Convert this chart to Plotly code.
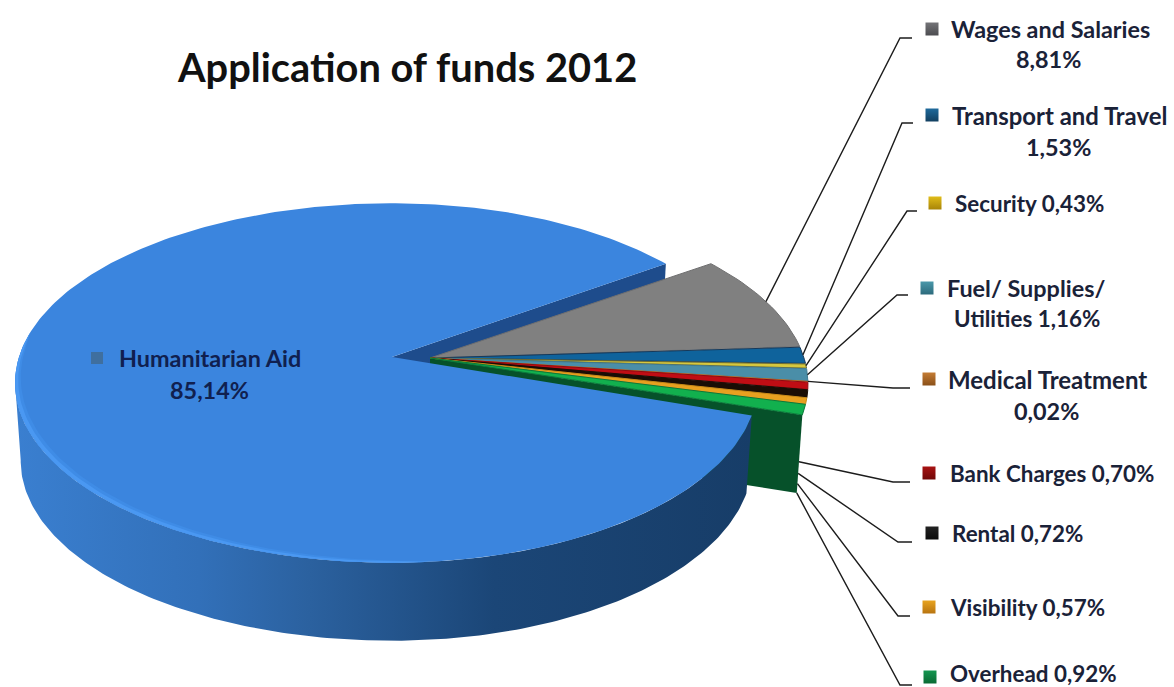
import numpy as np
import plotly.graph_objects as go

# ---- data ----
TITLE = "Application of funds 2012"
small_names = ["Wages and Salaries", "Transport and Travel", "Security", "Fuel/ Supplies/ Utilities",
               "Medical Treatment", "Bank Charges", "Rental", "Visibility", "Overhead"]
small_values = [8.81, 1.53, 0.43, 1.16, 0.02, 0.70, 0.72, 0.57, 0.92]
main_name = "Humanitarian Aid"
main_value = 85.14

# ---- styles ----
top_colors = ["#808080", "#0f639c", "#d6c83f", "#4a8ea8", "#b8702c", "#c00d14", "#1a0d05", "#e8a020", "#12b04e"]
edge_colors = ["#6f6f70", "#16395a", "#6a6a30", "#3f7a90", "#b8702c", "#900a10", "#1a0d05", "#c88a18", "#0a7a3a"]
key_colors = ["#747478", "#1f6a9c", "#e0bc18", "#4a98aa", "#c47c34", "#a81212", "#222222", "#e8a420", "#149650"]
key_dark = ["#4c4c50", "#123f60", "#a88408", "#2c6a7c", "#8a5018", "#700808", "#0c0c0c", "#b87410", "#0a6a34"]
TOP_BLUE = "#3b85de"
TEXT = "#1a2238"
LABEL_SIZE = 23.4
MIXED_SIZE = 22.4

# ---- projection (page pixels, tilted disc in perspective) ----
Q, RY, DEPTH, TAPER = 0.1445, 176.0, 78.0, 0.985
TIP = (392.0, 357.0)
APEX = (430.0, 358.0)
START_DEG = 35.0
SMALL_START_DEG = 35.5


def pt(c, rx_right, rx_left, deg, r=1.0, d=0.0):
    th = np.radians(np.asarray(deg, dtype=float))
    u, v = r * np.cos(th), -r * np.sin(th)
    w = 1 - Q * v
    rx = np.where(u > 0, rx_right, rx_left)
    k = 1 - (1 - TAPER) * d
    return c[0] + k * rx * u / w, c[1] + RY * v / w + DEPTH * d


def main_pt(deg, r=1.0, d=0.0):
    return pt(TIP, 362.0, 373.0, deg, r, d)


def small_pt(deg, r=1.0, d=0.0):
    return pt(APEX, 374.0, 374.0, deg, r, d)


fig = go.Figure()


def poly(x, y, color=None, line=None, grad=None):
    kw = dict(x=list(map(float, x)), y=list(map(float, y)), mode="lines", fill="toself", hoverinfo="skip",
              showlegend=False, line=dict(width=1 if line else 0, color=line or "rgba(0,0,0,0)"))
    if grad:
        kw["fillgradient"] = grad
    else:
        kw["fillcolor"] = color
    fig.add_trace(go.Scatter(**kw))


main_span = main_value * 3.6
main_end = START_DEG + main_span  # counter-clockwise round the back and the left

# radial cut face of the main slice, seen through the gap
sx, sy = main_pt(START_DEG)
bx, by = main_pt(START_DEG, d=1)
poly([TIP[0], sx, bx, TIP[0]], [TIP[1], sy, by, TIP[1] + DEPTH], "#1e4c8c")

# small slices: cut face
small_span = sum(small_values) * 3.6
small_end = SMALL_START_DEG - small_span
ex0, ey0 = small_pt(small_end)
ex1, ey1 = small_pt(small_end, d=1)
poly([APEX[0], ex0, ex1, APEX[0]], [APEX[1], ey0, ey1, APEX[1] + DEPTH], "#06512a")

# small slices: top faces
edges = SMALL_START_DEG - np.cumsum([0] + small_values) * 3.6
for i, name in enumerate(small_names):
    th = np.linspace(edges[i], edges[i + 1], 24)
    x, y = small_pt(th)
    poly([APEX[0], *x, APEX[0]], [APEX[1], *y, APEX[1]], top_colors[i], line=edge_colors[i])

# main slice: outer wall with gradient
th = np.linspace(188, main_end, 200)
x, y = main_pt(th)
xb, yb = main_pt(th, d=1)
poly([*x, *xb[::-1]], [*y, *yb[::-1]],
     grad=dict(type="horizontal",
               colorscale=[[0, "#3a7fd0"], [0.25, "#3270b9"], [0.4, "#2b619f"],
                           [0.65, "#1b4677"], [1, "#173d68"]]))

# main slice: top face
th = np.linspace(START_DEG, main_end, 300)
x, y = main_pt(th)
poly([TIP[0], *x, TIP[0]], [TIP[1], *y, TIP[1]], TOP_BLUE)

# bevel highlight along the lower-left rim
for width, col in [(0.022, "#3f8ce6"), (0.012, "#4a98f2")]:
    th = np.linspace(172, 275, 90)
    w = width * np.sin(np.pi * (th - 172) / 103) ** 0.5
    xo, yo = main_pt(th)
    xi, yi = main_pt(th, r=1 - w)
    poly([*xo, *xi[::-1]], [*yo, *yi[::-1]], col)

# ---- leader lines: from slice to the elbow and the end beside each label ----
elbows = [(900, 38), (902, 123), (907, 211), (897, 295), (893, 388), (893, 482), (898, 542), (898, 616), (900, 685)]
ends = [912, 913, 917, 908, 910, 910, 912, 910, 912]
leader_depth = [0, 0, 0, 0, 0, 0.6, 0.75, 0.88, 1.0]
for i in range(len(small_names)):
    if leader_depth[i] == 0:
        sx, sy = small_pt((edges[i] + edges[i + 1]) / 2)
    else:
        sx, sy = small_pt(small_end, d=leader_depth[i])
    ex, ey = elbows[i]
    fig.add_trace(go.Scatter(x=[float(sx), ex, ends[i]], y=[float(sy), ey, ey], mode="lines",
                             line=dict(color="#1c1c1c", width=1.4), hoverinfo="skip", showlegend=False))


def pct(v):
    return f"{v:.2f}".replace(".", ",") + "%"


# ---- labels: (lines as text, x, y, anchor, size) ----
sv = small_values
rows = [
    [("Wages and Salaries", 1050, 29, "center", LABEL_SIZE), (pct(sv[0]), 1048, 59, "center", LABEL_SIZE)],
    [("Transport and Travel", 1059, 115, "center", 23.9), (pct(sv[1]), 1058, 147, "center", LABEL_SIZE)],
    [(f"Security {pct(sv[2])}", 953, 203, "left", MIXED_SIZE)],
    [("Fuel/ Supplies/", 945, 288, "left", LABEL_SIZE), (f"Utilities {pct(sv[3])}", 952, 318, "left", MIXED_SIZE)],
    [("Medical Treatment", 1047, 379, "center", 24.0), (pct(sv[4]), 1046, 411, "center", LABEL_SIZE)],
    [(f"Bank Charges {pct(sv[5])}", 948, 473, "left", MIXED_SIZE)],
    [(f"Rental {pct(sv[6])}", 950, 533, "left", MIXED_SIZE)],
    [(f"Visibility {pct(sv[7])}", 948, 607, "left", MIXED_SIZE)],
    [(f"Overhead {pct(sv[8])}", 948, 673, "left", MIXED_SIZE)],
]
key_x = [932, 932, 935, 927, 929, 929, 932, 929, 930]
key_y = [29, 115, 203, 288, 379, 473, 533, 607, 677]

annotations = []
for row in rows:
    for text, x, y, anc, size in row:
        annotations.append(dict(x=x, y=y, text=f"<b>{text}</b>", xanchor=anc, yanchor="middle", showarrow=False,
                                font=dict(family="Lato", size=size, color=TEXT)))
annotations.append(dict(x=117, y=358, text=f"<b>{main_name}</b>", xanchor="left", yanchor="middle", showarrow=False,
                        font=dict(family="Lato", size=LABEL_SIZE, color="#10204f")))
annotations.append(dict(x=209, y=390, text=f"<b>{pct(main_value)}</b>", xanchor="center", yanchor="middle",
                        showarrow=False, font=dict(family="Lato", size=LABEL_SIZE, color="#10204f")))
annotations.append(dict(x=407, y=66, text=f"<b>{TITLE}</b>", xanchor="center", yanchor="middle", showarrow=False,
                        font=dict(family="Lato", size=39.8, color="#111111")))

fig.add_trace(go.Scatter(x=key_x, y=key_y, mode="markers", hoverinfo="skip", showlegend=False,
                         marker=dict(symbol="square", size=13, color=key_colors, line=dict(width=0),
                                     gradient=dict(type="vertical", color=key_dark))))
fig.add_trace(go.Scatter(x=[97], y=[358], mode="markers", hoverinfo="skip", showlegend=False,
                         marker=dict(symbol="square", size=12, color="#3f6f9f", line=dict(width=0))))

fig.update_layout(
    width=1174, height=687, margin=dict(l=0, r=0, t=0, b=0), autosize=False,
    paper_bgcolor="white", plot_bgcolor="white", annotations=annotations,
    xaxis=dict(range=[0, 1174], visible=False, fixedrange=True),
    yaxis=dict(range=[687, 0], visible=False, fixedrange=True),
)
fig.write_html("out.html", config={"displayModeBar": False},
               post_script="document.body.style.margin='0';document.body.style.overflow='hidden';")
